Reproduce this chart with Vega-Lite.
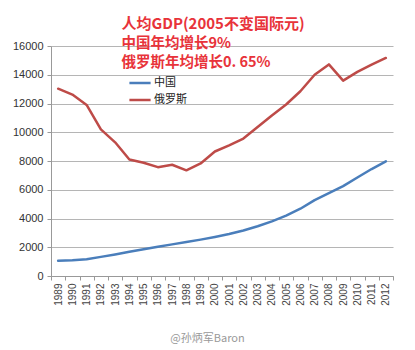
{
  "$schema": "https://vega.github.io/schema/vega-lite/v6.json",
  "width": 342,
  "height": 230,
  "autosize": {"type": "none"},
  "padding": {"left": 51, "top": 46, "right": 22, "bottom": 74},
  "background": "white",
  "title": {
    "text": "人均GDP(2005不变国际元)",
    "subtitle": ["中国年均增长9%", "俄罗斯年均增长0. 65%"],
    "anchor": "start",
    "dx": 109,
    "offset": -29,
    "font": "Noto Sans CJK SC",
    "fontSize": 15,
    "fontWeight": "bold",
    "color": "#e8333a",
    "subtitleFont": "Noto Sans CJK SC",
    "subtitleFontSize": 14.5,
    "subtitleFontWeight": "bold",
    "subtitleColor": "#e8333a",
    "subtitleLineHeight": 19,
    "subtitlePadding": 5
  },
  "data": {
    "values": [
      {"year": "1989", "country": "中国", "value": 1060},
      {"year": "1990", "country": "中国", "value": 1090},
      {"year": "1991", "country": "中国", "value": 1170},
      {"year": "1992", "country": "中国", "value": 1330},
      {"year": "1993", "country": "中国", "value": 1500},
      {"year": "1994", "country": "中国", "value": 1690},
      {"year": "1995", "country": "中国", "value": 1860},
      {"year": "1996", "country": "中国", "value": 2030},
      {"year": "1997", "country": "中国", "value": 2200},
      {"year": "1998", "country": "中国", "value": 2360},
      {"year": "1999", "country": "中国", "value": 2530},
      {"year": "2000", "country": "中国", "value": 2720},
      {"year": "2001", "country": "中国", "value": 2920},
      {"year": "2002", "country": "中国", "value": 3170},
      {"year": "2003", "country": "中国", "value": 3460},
      {"year": "2004", "country": "中国", "value": 3800},
      {"year": "2005", "country": "中国", "value": 4200},
      {"year": "2006", "country": "中国", "value": 4680},
      {"year": "2007", "country": "中国", "value": 5280},
      {"year": "2008", "country": "中国", "value": 5760},
      {"year": "2009", "country": "中国", "value": 6250},
      {"year": "2010", "country": "中国", "value": 6850},
      {"year": "2011", "country": "中国", "value": 7440},
      {"year": "2012", "country": "中国", "value": 7970},
      {"year": "1989", "country": "俄罗斯", "value": 13030},
      {"year": "1990", "country": "俄罗斯", "value": 12620},
      {"year": "1991", "country": "俄罗斯", "value": 11900},
      {"year": "1992", "country": "俄罗斯", "value": 10200},
      {"year": "1993", "country": "俄罗斯", "value": 9300},
      {"year": "1994", "country": "俄罗斯", "value": 8100},
      {"year": "1995", "country": "俄罗斯", "value": 7880},
      {"year": "1996", "country": "俄罗斯", "value": 7570},
      {"year": "1997", "country": "俄罗斯", "value": 7740},
      {"year": "1998", "country": "俄罗斯", "value": 7350},
      {"year": "1999", "country": "俄罗斯", "value": 7830},
      {"year": "2000", "country": "俄罗斯", "value": 8660},
      {"year": "2001", "country": "俄罗斯", "value": 9090},
      {"year": "2002", "country": "俄罗斯", "value": 9560},
      {"year": "2003", "country": "俄罗斯", "value": 10360},
      {"year": "2004", "country": "俄罗斯", "value": 11170},
      {"year": "2005", "country": "俄罗斯", "value": 11930},
      {"year": "2006", "country": "俄罗斯", "value": 12850},
      {"year": "2007", "country": "俄罗斯", "value": 14000},
      {"year": "2008", "country": "俄罗斯", "value": 14720},
      {"year": "2009", "country": "俄罗斯", "value": 13590},
      {"year": "2010", "country": "俄罗斯", "value": 14200},
      {"year": "2011", "country": "俄罗斯", "value": 14700},
      {"year": "2012", "country": "俄罗斯", "value": 15170}
    ]
  },
  "mark": {"type": "line", "strokeWidth": 2.5, "strokeCap": "round", "strokeJoin": "round"},
  "encoding": {
    "x": {
      "field": "year",
      "type": "ordinal",
      "scale": {"type": "band", "paddingInner": 0, "paddingOuter": 0},
      "axis": {
        "title": "@孙炳军Baron",
        "titleFont": "Noto Sans CJK SC",
        "titleFontSize": 11,
        "titleFontWeight": "normal",
        "titleColor": "#999999",
        "titleX": 156,
        "titleAlign": "center",
        "titlePadding": 27,
        "labelAngle": 270,
        "labelFont": "Liberation Sans",
        "labelFontSize": 10,
        "labelColor": "#444444",
        "labelPadding": 3,
        "tickBand": "extent",
        "tickSize": 4,
        "tickColor": "#999999",
        "domainColor": "#999999",
        "grid": false
      }
    },
    "y": {
      "field": "value",
      "type": "quantitative",
      "scale": {"domain": [0, 16000], "nice": false},
      "axis": {
        "title": null,
        "values": [0, 2000, 4000, 6000, 8000, 10000, 12000, 14000, 16000],
        "format": "d",
        "labelFont": "Liberation Sans",
        "labelFontSize": 11,
        "labelColor": "#333333",
        "labelPadding": 4,
        "tickSize": 4,
        "tickColor": "#999999",
        "domainColor": "#999999",
        "gridColor": "#b5b5b5",
        "gridWidth": 1
      }
    },
    "color": {
      "field": "country",
      "type": "nominal",
      "scale": {"domain": ["中国", "俄罗斯"], "range": ["#4a7ebb", "#be4b48"]},
      "legend": {
        "title": null,
        "orient": "none",
        "legendX": 77,
        "legendY": 25,
        "symbolType": "stroke",
        "symbolSize": 450,
        "symbolStrokeWidth": 2.5,
        "labelFont": "Noto Sans CJK SC",
        "labelFontSize": 11,
        "labelColor": "#222222",
        "labelOffset": 2,
        "rowPadding": 0
      }
    }
  },
  "config": {
    "view": {"stroke": null}
  }
}
